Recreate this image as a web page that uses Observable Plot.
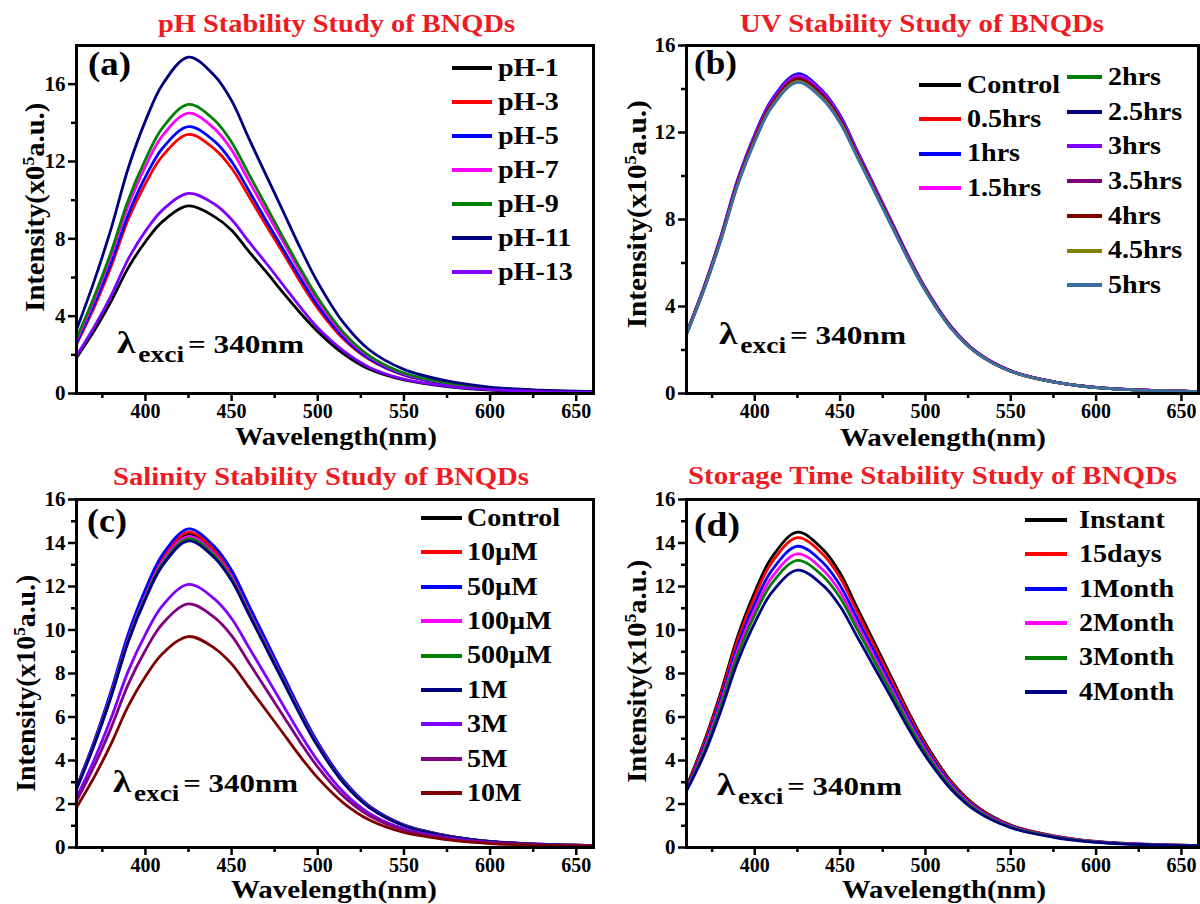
<!DOCTYPE html>
<html>
<head>
<meta charset="utf-8">
<script src="https://cdn.jsdelivr.net/npm/d3@7"></script>
<script src="https://cdn.jsdelivr.net/npm/@observablehq/plot@0.6"></script>
<style>
  html, body { margin: 0; padding: 0; background: #fff; }
  #root { position: relative; width: 1200px; height: 904px; overflow: hidden; background: #fff;
          font-family: "Liberation Serif", "Times New Roman", serif; font-weight: bold; color: #000; }
  .abs { position: absolute; white-space: nowrap; }
  .sup { font-size: .62em; position: relative; top: -.6em; }
</style>
</head>
<body>
<div id="root"></div>
<script>
// ---------- shared axis data ----------
const wavelengths = [360,370,380,390,400,410,425,440,450,460,470,480,490,500,515,530,550,575,600,630,660];
const xTicks = [400,450,500,550,600,650];
const xMinorTicks = [375,425,475,525,575,625];
const yTicksAB = [0,4,8,12,16];
const yMinorAB = [2,6,10,14];
const yTicksCD = [0,2,4,6,8,10,12,14,16];
const yMinorCD = [1,3,5,7,9,11,13,15];

// ---------- (a) pH ----------
const phSeries = ["pH-1","pH-3","pH-5","pH-7","pH-9","pH-11","pH-13"];
const phColors = ["#000000","#ff0000","#0000ff","#ff00ff","#008000","#000080","#8000ff"];
const ph1  = [1.85,3.2,4.75,6.5,7.85,8.9,9.7,9.15,8.45,7.35,6.3,5.2,4.15,3.2,2.05,1.25,0.7,0.36,0.18,0.1,0.06];
const ph3  = [2.55,4.4,6.55,9.0,10.85,12.3,13.4,12.65,11.65,10.2,8.7,7.25,5.75,4.4,2.8,1.75,0.95,0.5,0.25,0.13,0.08];
const ph5  = [2.6,4.55,6.75,9.25,11.2,12.7,13.8,13.05,12.0,10.5,8.95,7.45,5.95,4.55,2.9,1.8,0.98,0.51,0.26,0.14,0.08];
const ph7  = [2.75,4.8,7.1,9.7,11.75,13.35,14.5,13.7,12.6,11.0,9.4,7.85,6.25,4.8,3.05,1.9,1.03,0.54,0.28,0.15,0.09];
const ph9  = [2.85,4.95,7.3,10.0,12.1,13.75,14.95,14.15,13.0,11.35,9.7,8.05,6.45,4.95,3.15,1.95,1.06,0.55,0.28,0.15,0.09];
const ph11 = [3.3,5.75,8.5,11.65,14.1,16.0,17.4,16.45,15.15,13.2,11.3,9.4,7.5,5.75,3.65,2.25,1.25,0.65,0.33,0.17,0.1];
const ph13 = [1.95,3.4,5.05,6.95,8.4,9.5,10.35,9.8,9.0,7.85,6.75,5.6,4.45,3.4,2.2,1.35,0.74,0.38,0.2,0.1,0.06];

// ---------- (b) UV ----------
const uvSeries = ["Control","0.5hrs","1hrs","1.5hrs","2hrs","2.5hrs","3hrs","3.5hrs","4hrs","4.5hrs","5hrs"];
const uvColors = ["#000000","#ff0000","#0000ff","#ff00ff","#008000","#000080","#8000ff","#800080","#800000","#808000","#3a6ea5"];
const uvControl = [2.75,4.77,7.08,9.68,11.7,13.29,14.45,13.66,12.57,10.98,9.39,7.8,6.21,4.77,3.03,1.88,1.03,0.53,0.27,0.14,0.09];
const uv05 = [2.76,4.8,7.13,9.75,11.79,13.39,14.55,13.75,12.66,11.06,9.46,7.86,6.26,4.8,3.06,1.89,1.03,0.54,0.28,0.15,0.09];
const uv1  = [2.79,4.85,7.2,9.85,11.91,13.52,14.7,13.89,12.79,11.17,9.56,7.94,6.32,4.85,3.09,1.91,1.04,0.54,0.28,0.15,0.09];
const uv15 = [2.77,4.82,7.15,9.78,11.83,13.43,14.6,13.8,12.7,11.1,9.49,7.88,6.28,4.82,3.07,1.9,1.04,0.54,0.28,0.15,0.09];
const uv2  = [2.74,4.75,7.06,9.65,11.66,13.25,14.4,13.61,12.53,10.94,9.36,7.78,6.19,4.75,3.02,1.87,1.02,0.53,0.27,0.14,0.09];
const uv25 = [2.75,4.77,7.08,9.68,11.7,13.29,14.45,13.66,12.57,10.98,9.39,7.8,6.21,4.77,3.03,1.88,1.03,0.53,0.27,0.14,0.09];
const uv3  = [2.76,4.8,7.13,9.75,11.79,13.39,14.55,13.75,12.66,11.06,9.46,7.86,6.26,4.8,3.06,1.89,1.03,0.54,0.28,0.15,0.09];
const uv35 = [2.76,4.79,7.11,9.72,11.75,13.34,14.5,13.7,12.62,11.02,9.43,7.83,6.24,4.79,3.05,1.89,1.03,0.54,0.28,0.15,0.09];
const uv4  = [2.75,4.77,7.08,9.68,11.7,13.29,14.45,13.66,12.57,10.98,9.39,7.8,6.21,4.77,3.03,1.88,1.03,0.53,0.27,0.14,0.09];
const uv45 = [2.73,4.74,7.03,9.61,11.62,13.2,14.35,13.56,12.48,10.91,9.33,7.75,6.17,4.74,3.01,1.87,1.02,0.53,0.27,0.14,0.09];
const uv5  = [2.72,4.72,7.01,9.58,11.58,13.16,14.3,13.51,12.44,10.87,9.3,7.72,6.15,4.72,3.0,1.86,1.02,0.53,0.27,0.14,0.09];

// ---------- (c) Salinity ----------
const saltSeries = ["Control","10\u00b5M","50\u00b5M","100\u00b5M","500\u00b5M","1M","3M","5M","10M"];
const saltColors = ["#000000","#ff0000","#0000ff","#ff00ff","#008000","#000080","#8000ff","#800080","#800000"];
const saltControl = [2.74,4.75,7.06,9.65,11.66,13.25,14.4,13.61,12.53,10.94,9.36,7.78,6.19,4.75,3.02,1.87,1.02,0.53,0.27,0.14,0.09];
const salt10u  = [2.76,4.79,7.11,9.72,11.75,13.34,14.5,13.7,12.62,11.02,9.43,7.83,6.24,4.79,3.05,1.89,1.03,0.54,0.28,0.15,0.09];
const salt50u  = [2.78,4.83,7.18,9.82,11.87,13.48,14.65,13.84,12.75,11.13,9.52,7.91,6.3,4.83,3.08,1.9,1.04,0.54,0.28,0.15,0.09];
const salt100u = [2.72,4.72,7.01,9.58,11.58,13.16,14.3,13.51,12.44,10.87,9.3,7.72,6.15,4.72,3.0,1.86,1.02,0.53,0.27,0.14,0.09];
const salt500u = [2.7,4.69,6.96,9.51,11.5,13.06,14.2,13.42,12.35,10.79,9.23,7.67,6.11,4.69,2.98,1.85,1.01,0.53,0.27,0.14,0.09];
const salt1M   = [2.68,4.65,6.91,9.45,11.42,12.97,14.1,13.32,12.27,10.72,9.17,7.61,6.06,4.65,2.96,1.83,1.0,0.52,0.27,0.14,0.08];
const salt3M   = [2.3,3.99,5.93,8.11,9.8,11.13,12.1,11.43,10.53,9.2,7.87,6.53,5.2,3.99,2.54,1.57,0.86,0.45,0.23,0.12,0.07];
const salt5M   = [2.13,3.7,5.49,7.5,9.07,10.3,11.2,10.58,9.74,8.51,7.28,6.05,4.82,3.7,2.35,1.46,0.8,0.41,0.21,0.11,0.07];
const salt10M  = [1.84,3.2,4.75,6.5,7.86,8.92,9.7,9.17,8.44,7.37,6.31,5.24,4.17,3.2,2.04,1.26,0.69,0.36,0.18,0.1,0.06];

// ---------- (d) Storage time ----------
const storeSeries = ["Instant","15days","1Month","2Month","3Month","4Month"];
const storeColors = ["#000000","#ff0000","#0000ff","#ff00ff","#008000","#000080"];
const storeInstant = [2.8,4.79,7.11,9.72,11.75,13.34,14.5,13.7,12.62,11.02,9.43,7.83,6.24,4.79,3.05,1.89,1.03,0.54,0.28,0.15,0.09];
const store15d = [2.72,4.7,6.98,9.55,11.54,13.11,14.25,13.47,12.4,10.83,9.26,7.7,6.13,4.7,2.99,1.85,1.01,0.53,0.27,0.14,0.09];
const store1m  = [2.67,4.57,6.79,9.28,11.22,12.74,13.85,13.09,12.05,10.53,9.0,7.48,5.96,4.57,2.91,1.8,0.98,0.51,0.26,0.14,0.08];
const store2m  = [2.64,4.46,6.62,9.05,10.94,12.42,13.5,12.76,11.75,10.26,8.78,7.29,5.81,4.46,2.84,1.76,0.96,0.5,0.26,0.14,0.08];
const store3m  = [2.62,4.36,6.47,8.84,10.69,12.14,13.2,12.47,11.48,10.03,8.58,7.13,5.68,4.36,2.77,1.72,0.94,0.49,0.25,0.13,0.08];
const store4m  = [2.6,4.21,6.25,8.54,10.33,11.73,12.75,12.05,11.09,9.69,8.29,6.89,5.48,4.21,2.68,1.66,0.91,0.47,0.24,0.13,0.08];

// ---------- texts ----------
const titles = ["pH Stability Study of BNQDs","UV Stability Study of BNQDs","Salinity Stability Study of BNQDs","Storage Time Stability Study of BNQDs"];
const panelLetters = ["(a)","(b)","(c)","(d)"];
const yLabels = [
  'Intensity(x0<span class="sup">5</span>a.u.)',
  'Intensity(x10<span class="sup">5</span>a.u.)',
  'Intensity(x10<span class="sup">5</span>a.u.)',
  'Intensity(x10<span class="sup">5</span>a.u.)'
];
const xLabel = "Wavelength(nm)";
const excitation = '<span style="font-size:1.2em">\u03bb</span><span style="font-size:.88em;position:relative;top:.42em;margin:0 .14em 0 .1em">exci</span>= 340nm';

// ---------- layout ----------
const root = document.getElementById("root");
const LH = 0.72; // tight line box

function place(html, o) {
  const d = document.createElement("div");
  d.className = "abs";
  d.innerHTML = html;
  d.style.fontSize = o.size + "px";
  d.style.lineHeight = String(LH);
  if (o.color) d.style.color = o.color;
  root.appendChild(d);
  const w = d.getBoundingClientRect().width;
  const sx = o.right != null ? (o.right - o.left) / w : (o.sx || 1);
  d.style.left = o.left + "px";
  d.style.top = (o.baseline - (LH / 2 + 0.3375) * o.size) + "px";
  d.style.transformOrigin = "0 0";
  d.style.transform = `scaleX(${sx})`;
  return d;
}
function placeV(html, o) {
  const d = document.createElement("div");
  d.className = "abs";
  d.innerHTML = html;
  d.style.fontSize = o.size + "px";
  d.style.lineHeight = String(LH);
  root.appendChild(d);
  const r = d.getBoundingClientRect();
  const sx = (o.y2 - o.y1) / r.width;
  d.style.left = (o.cx - r.width / 2) + "px";
  d.style.top = ((o.y1 + o.y2) / 2 - r.height / 2) + "px";
  d.style.transformOrigin = "50% 50%";
  d.style.transform = `rotate(-90deg) scaleX(${sx})`;
  return d;
}

function drawPanel(p) {
  const data = [];
  p.series.forEach((name, i) => p.values[i].forEach((v, j) => data.push({wl: wavelengths[j], intensity: v, series: name})));
  const chart = Plot.plot({
    width: p.width, height: p.height,
    marginLeft: p.ml, marginRight: p.mr, marginTop: p.mt, marginBottom: p.mb,
    style: {fontFamily: "'Liberation Serif', serif", fontWeight: "bold", background: "transparent", overflow: "visible", color: "#000"},
    x: {domain: [360, 660]},
    y: {domain: [0, p.ymax]},
    color: {domain: p.series, range: p.colors},
    marks: [
      Plot.line(data, {x: "wl", y: "intensity", z: "series", stroke: "series", strokeWidth: 2.8, curve: "catmull-rom"}),
      Plot.axisX({ticks: xTicks, tickSize: 8, tickPadding: 2, strokeWidth: 2.5, fontSize: 20, fontWeight: "bold", label: null}),
      Plot.axisX({ticks: xMinorTicks, tickSize: 5, strokeWidth: 2.5, tickFormat: () => "", label: null}),
      Plot.axisY({ticks: p.yTicks, tickSize: 8, tickPadding: 3, strokeWidth: 2.5, fontSize: 21, fontWeight: "bold", label: null}),
      Plot.axisY({ticks: p.yMinor, tickSize: 5, strokeWidth: 2.5, tickFormat: () => "", label: null}),
      Plot.frame({stroke: "#000", strokeWidth: 3})
    ]
  });
  chart.style.position = "absolute";
  chart.style.left = p.left + "px";
  chart.style.top = p.top + "px";
  root.appendChild(chart);
}

const panels = [
  {left: 0, top: 0, width: 600, height: 450, ml: 76, mr: 7, mt: 45, mb: 57, ymax: 18,
   yTicks: yTicksAB, yMinor: yMinorAB, series: phSeries, colors: phColors,
   values: [ph1, ph3, ph5, ph7, ph9, ph11, ph13]},
  {left: 600, top: 0, width: 600, height: 450, ml: 86, mr: 2, mt: 45, mb: 57, ymax: 16,
   yTicks: yTicksAB, yMinor: yMinorAB, series: uvSeries, colors: uvColors,
   values: [uvControl, uv05, uv1, uv15, uv2, uv25, uv3, uv35, uv4, uv45, uv5]},
  {left: 0, top: 450, width: 600, height: 454, ml: 76, mr: 7, mt: 49, mb: 57, ymax: 16,
   yTicks: yTicksCD, yMinor: yMinorCD, series: saltSeries, colors: saltColors,
   values: [saltControl, salt10u, salt50u, salt100u, salt500u, salt1M, salt3M, salt5M, salt10M]},
  {left: 600, top: 450, width: 600, height: 454, ml: 86, mr: 2, mt: 49, mb: 57, ymax: 16,
   yTicks: yTicksCD, yMinor: yMinorCD, series: storeSeries, colors: storeColors,
   values: [storeInstant, store15d, store1m, store2m, store3m, store4m]}
];
panels.forEach(drawPanel);

// titles
const titleBoxes = [[158, 515, 33], [740, 1104, 33], [113, 529, 486], [688, 1177, 485]];
titles.forEach((t, i) => place(t, {left: titleBoxes[i][0], right: titleBoxes[i][1], baseline: titleBoxes[i][2], size: 26, color: "#ed1c24"}));

// panel letters
const letterBoxes = [[88, 131, 76], [694, 737, 75], [87, 127, 533], [694, 740, 537]];
panelLetters.forEach((t, i) => place(t, {left: letterBoxes[i][0], right: letterBoxes[i][1], baseline: letterBoxes[i][2], size: 33}));

// excitation notes
const exciBoxes = [[117, 304, 350], [719, 906, 341], [113, 298, 789], [717, 902, 792]];
exciBoxes.forEach(b => place(excitation, {left: b[0], right: b[1], baseline: b[2], size: 26}));

// axis labels
const xLabelBoxes = [[235, 437, 446], [840, 1046, 447], [231, 437, 899], [842, 1046, 899]];
xLabelBoxes.forEach(b => place(xLabel, {left: b[0], right: b[1], baseline: b[2], size: 26}));
const yLabelBoxes = [[35, 103, 312], [637, 100, 328], [26, 575, 792], [637, 560, 783]];
yLabels.forEach((t, i) => placeV(t, {cx: yLabelBoxes[i][0], y1: yLabelBoxes[i][1], y2: yLabelBoxes[i][2], size: 28}));

// legends
function legend(series, colors, o) {
  series.forEach((s, i) => {
    const cy = o.y0 + i * o.step;
    const ln = document.createElement("div");
    ln.className = "abs";
    Object.assign(ln.style, {left: o.x1 + "px", top: (cy - 2) + "px", width: (o.x2 - o.x1) + "px", height: "4px", background: colors[i]});
    root.appendChild(ln);
    place(s, {left: o.tx, baseline: cy + 9, size: 26, sx: 1.08});
  });
}
legend(phSeries, phColors, {x1: 452, x2: 492, tx: 498, y0: 68, step: 34});
legend(uvSeries.slice(0, 4), uvColors.slice(0, 4), {x1: 919, x2: 961, tx: 967, y0: 85, step: 34.3});
legend(uvSeries.slice(4), uvColors.slice(4), {x1: 1067, x2: 1102, tx: 1108, y0: 77, step: 34.7});
legend(saltSeries, saltColors, {x1: 421, x2: 462, tx: 467, y0: 518, step: 34.4});
legend(storeSeries, storeColors, {x1: 1025, x2: 1067, tx: 1079, y0: 520, step: 34.4});
</script>
</body>
</html>
